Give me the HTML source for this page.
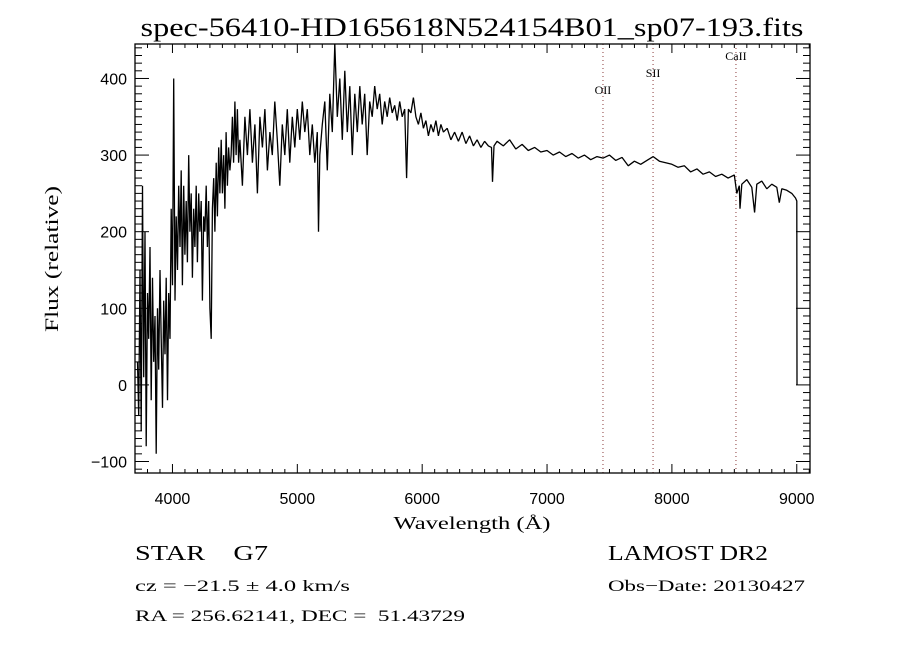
<!DOCTYPE html>
<html><head><meta charset="utf-8"><style>
html,body{margin:0;padding:0;background:#fff;}
svg{display:block;}
text{font-family:"Liberation Serif",serif;fill:#000;}
.tk{font-family:"Liberation Sans",sans-serif;font-size:16px;}
</style></head><body>
<svg id="chart" width="900" height="650" viewBox="0 0 900 650" xmlns="http://www.w3.org/2000/svg">
<rect width="900" height="650" fill="#fff"/>
<text x="472" y="36" text-anchor="middle" font-size="26" textLength="663" lengthAdjust="spacingAndGlyphs">spec-56410-HD165618N524154B01_sp07-193.fits</text>
<g id="lines"></g>
<g id="ticks"></g>
<path id="spec" fill="none" stroke="#000" stroke-width="1.3" stroke-linejoin="bevel"/>
<rect x="135" y="44" width="675" height="429" fill="none" stroke="#000" stroke-width="1.3"/>
<text x="472" y="529" text-anchor="middle" font-size="18" textLength="157" lengthAdjust="spacingAndGlyphs">Wavelength (Å)</text>
<text transform="translate(58,259) rotate(-90)" text-anchor="middle" font-size="19" textLength="146" lengthAdjust="spacingAndGlyphs">Flux (relative)</text>
<text x="135" y="560" font-size="21" textLength="133" lengthAdjust="spacingAndGlyphs" xml:space="preserve">STAR    G7</text>
<text x="608" y="560" font-size="21" textLength="160" lengthAdjust="spacingAndGlyphs">LAMOST DR2</text>
<text x="135" y="591" font-size="16" textLength="215" lengthAdjust="spacingAndGlyphs">cz = −21.5 ± 4.0 km/s</text>
<text x="608" y="591" font-size="16" textLength="197" lengthAdjust="spacingAndGlyphs">Obs−Date: 20130427</text>
<text x="135" y="621" font-size="16" textLength="330" lengthAdjust="spacingAndGlyphs" xml:space="preserve">RA = 256.62141, DEC =  51.43729</text>
</svg>
<script>
const waves=[3720,3730,3740,3750,3760,3770,3780,3790,3800,3810,3820,3830,3840,3850,3860,3870,3880,3890,3900,3910,3920,3930,3940,3950,3960,3970,3980,3990,4000,
4010,4020,4030,4040,4050,4060,4070,4080,4090,4100,4110,4120,4130,4140,4150,4160,4170,4180,4190,4200,4210,4220,4230,4240,4250,4260,4270,4280,4290,4300,4310,4320,4330,4340,4350,4360,4370,4380,4390,4400,4410,4420,4430,4440,4450,4460,4470,4480,4490,4500,4510,4520,4530,4540,4560,4580,4600,4620,4640,4660,4680,4700,4720,4740,4760,4780,4800,4820,4840,4860,4880,4900,4920,4940,4960,4980,5000,5020,5040,5060,5080,5100,5120,5140,5160,5170,5180,5200,5220,5240,5260,5280,5300,5320,5340,5360,5380,5400,5420,5440,5460,5480,5500,5520,5540,5560,5580,5600,5620,5640,5660,5680,5700,5720,5740,5760,5780,5800,5820,5840,5860,5875,5890,5910,5930,5950,5970,5990,6010,6030,6050,6070,6090,6110,6130,6150,6170,6200,6230,6260,6290,6320,6350,6380,6410,6440,6470,6500,6530,6555,6563,6575,6600,6650,6700,6750,6800,6850,6900,6950,7000,7050,7100,7150,7200,7250,7300,7350,7400,7450,7500,7550,7600,7650,7700,7750,7800,7850,7900,7950,8000,8050,8100,8150,8200,8250,8300,8350,8400,8450,8500,8520,8540,8545,8560,8600,8640,8662,8680,8720,8760,8800,8840,8860,8880,8920,8960,8990,9000,9002];
const flux=[30,-40,150,-60,260,10,200,-80,120,60,180,-20,140,30,90,-90,100,20,150,60,-30,110,40,140,-20,120,60,230,130,
400,110,220,150,260,180,280,130,260,170,240,160,300,200,250,140,230,180,260,160,250,200,240,110,220,200,260,180,240,100,60,230,270,200,290,220,310,250,320,250,300,230,330,260,310,280,300,350,290,370,300,360,290,320,260,350,300,360,290,340,250,350,310,360,280,330,300,370,320,260,340,300,360,290,350,310,360,320,370,330,360,300,340,290,330,200,300,340,370,280,380,330,445,350,400,320,410,330,390,300,380,330,390,340,380,300,370,350,390,360,380,340,370,350,375,355,365,345,370,350,360,270,360,355,375,350,340,355,335,345,325,340,330,345,325,340,330,335,320,330,318,330,315,325,312,320,310,318,312,310,265,312,318,312,320,308,314,306,310,304,306,300,304,298,302,296,300,294,298,296,300,293,297,286,292,288,293,298,292,290,288,284,286,278,282,275,278,272,275,270,274,250,260,230,262,268,258,225,262,266,256,262,258,238,256,254,250,244,240,0];
const xTicks=[4000,5000,6000,7000,8000,9000];
const yTicks=[-100,0,100,200,300,400];
const lineNames=["OII","SII","CaII"];
const lineWaves=[7448,7849,8513];
const lineLabelFlux=[380,402,424];

const X0=135,X1=810,Y0=44,Y1=473;
const xmin=3700,xmax=9106,ymin=-115,ymax=445;
function sx(w){return X0+(w-xmin)/(xmax-xmin)*(X1-X0);}
function sy(f){return Y1-(f-ymin)/(ymax-ymin)*(Y1-Y0);}
const NS="http://www.w3.org/2000/svg";
function mk(tag,attrs,parent){const e=document.createElementNS(NS,tag);for(const k in attrs)e.setAttribute(k,attrs[k]);parent.appendChild(e);return e;}

let d="";
for(let i=0;i<waves.length;i++){d+=(i?"L":"M")+sx(waves[i]).toFixed(1)+" "+sy(Math.max(ymin,Math.min(ymax,flux[i]))).toFixed(1);}
document.getElementById("spec").setAttribute("d",d);

const tg=document.getElementById("ticks");
for(let w=3700;w<=9100;w+=100){
  const major=w%1000===0,L=major?9:4,x=sx(w);
  const t1=mk("line",{x1:x,x2:x,y1:Y1,y2:Y1-L,stroke:"#000","stroke-width":1},tg);
  
  
  const t2=mk("line",{x1:x,x2:x,y1:Y0,y2:Y0+L,stroke:"#000","stroke-width":1},tg);
  
  
}
xTicks.forEach(v=>{
  const t=mk("text",{x:sx(v),y:504,"text-anchor":"middle",class:"tk"},tg);
  t.textContent=String(v);
  
  
});
for(let f=-110;f<=440;f+=10){
  const major=f%100===0,L=major?14:7,y=sy(f);
  const t1=mk("line",{x1:X0,x2:X0+L,y1:y,y2:y,stroke:"#000","stroke-width":1},tg);
  
  
  const t2=mk("line",{x1:X1,x2:X1-L,y1:y,y2:y,stroke:"#000","stroke-width":1},tg);
  
  
}
yTicks.forEach(v=>{
  const t=mk("text",{x:127,y:sy(v)+6,"text-anchor":"end",class:"tk"},tg);
  t.textContent=v<0?"−"+Math.abs(v):String(v);
  
  
});
const lg=document.getElementById("lines");
lineNames.forEach((n,i)=>{
  const x=sx(lineWaves[i]);
  const l=mk("line",{x1:x,x2:x,y1:Y0,y2:Y1,stroke:"#8a3a3a","stroke-width":1,"stroke-dasharray":"1 3"},lg);
  
  
  const t=mk("text",{x:x,y:sy(lineLabelFlux[i]),"text-anchor":"middle","font-size":"12"},lg);
  t.textContent=n;
  
  
});
</script>
</body></html>
